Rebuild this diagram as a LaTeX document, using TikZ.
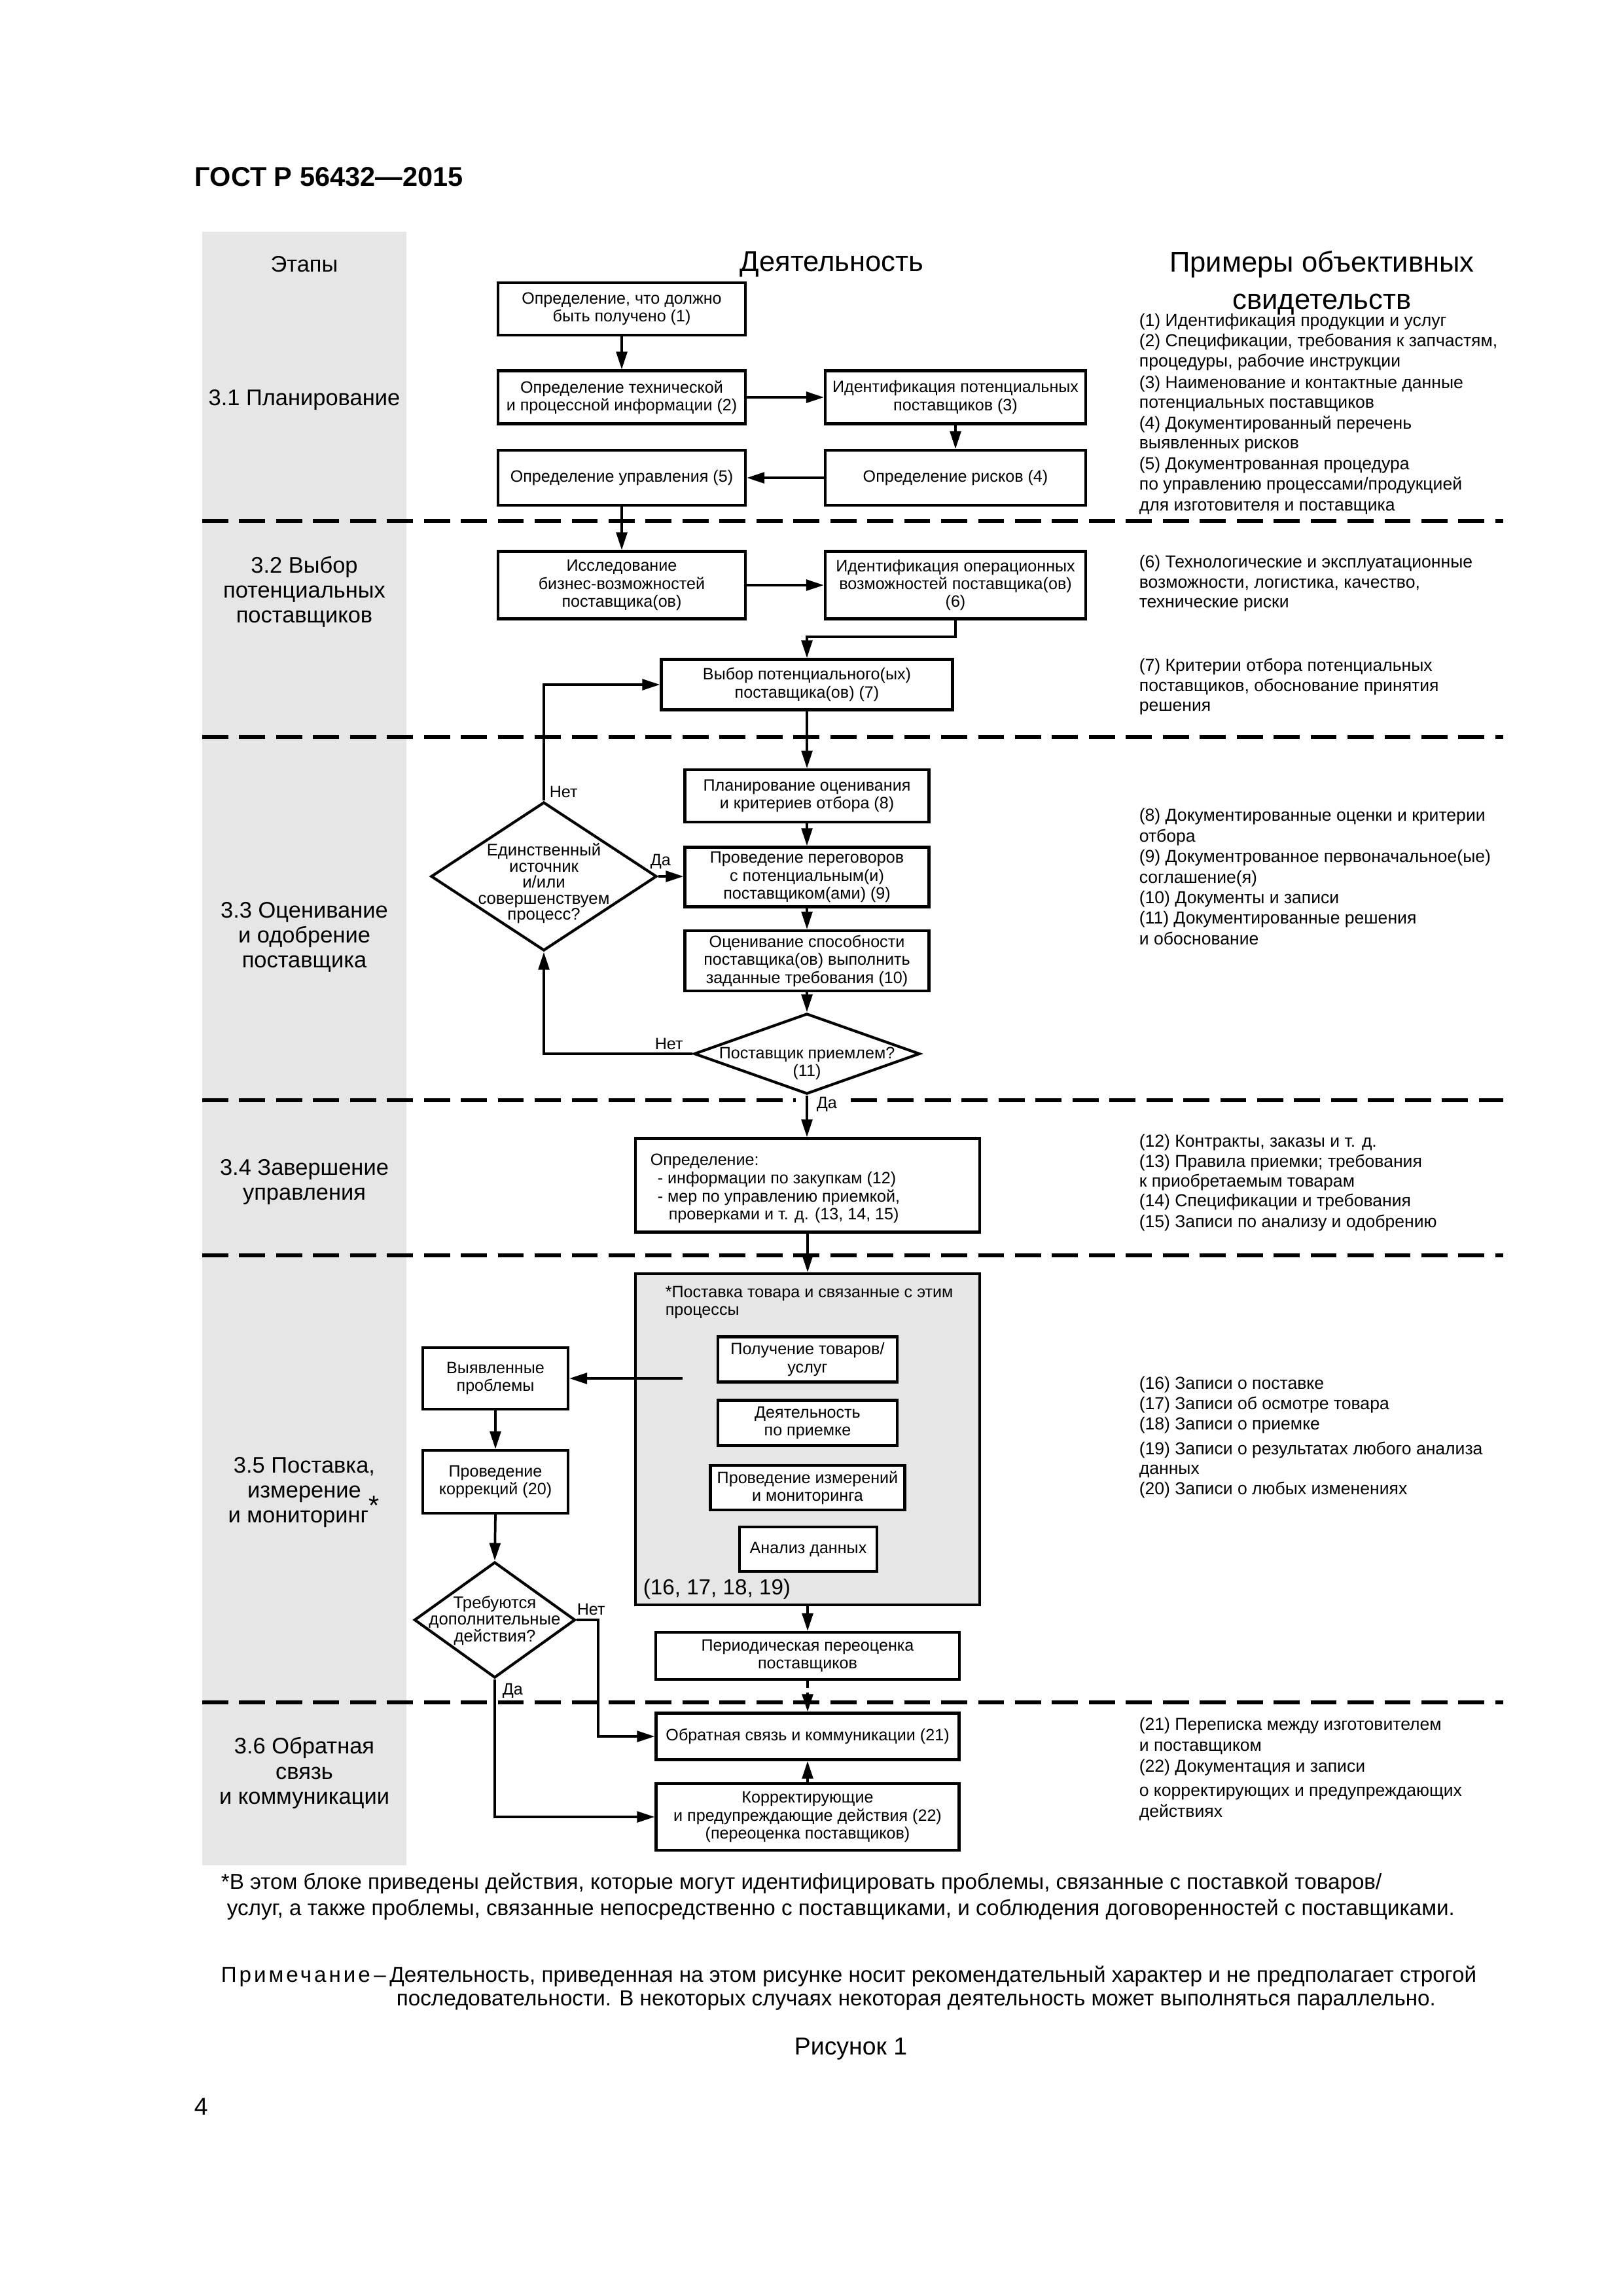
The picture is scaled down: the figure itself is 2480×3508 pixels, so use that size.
\documentclass[tikz,border=0pt]{standalone}
\usepackage{fontspec}
\setmainfont{Liberation Sans}
\usetikzlibrary{shapes.geometric,arrows.meta}
\newlength\px
\setlength\px{0.0846774mm}
\definecolor{bandgray}{RGB}{230,230,230}
\newcommand\FntBox{\fontsize{6.05}{6.6}\selectfont}
\newcommand\FntDia{\fontsize{6.2}{5.9}\selectfont}
\newcommand\FntRc{\fontsize{6.4}{7.4}\selectfont}
\newcommand\FntSt{\fontsize{8.3}{9.2}\selectfont}
\newcommand\FntHd{\fontsize{10.5}{13.7}\selectfont}
\newcommand\FntFn{\fontsize{8.0}{9.6}\selectfont}
\newcommand\RL[3]{\node[rc] (#1) at (1740,#2) {#3};}
\tikzset{
  box/.style={draw, line width=1pt, fill=white, inner sep=1pt, align=center, font=\FntBox},
  sz/.style 2 args={minimum width=#1\px, minimum height=#2\px},
  dia/.style={draw, line width=1pt, fill=white, shape=diamond, inner sep=0pt},
  conn/.style={line width=0.9pt},
  arr/.style={conn, -{Triangle[length=6.5pt,width=4pt]}},
  darr/.style={arr, dash pattern=on 2.6pt off 1.6pt},
  sep/.style={line width=1.4pt, dash pattern=on 9.6pt off 4pt},
  rc/.style={anchor=mid west, inner sep=0pt, font=\FntRc},
  stage/.style={align=center, inner sep=0pt, font=\FntSt},
  lbl/.style={anchor=mid west, inner sep=0pt, font=\FntBox},
  dtext/.style={align=center, inner sep=0pt, font=\FntDia}
}
\begin{document}
\begin{tikzpicture}[x=0.0846774mm,y=-0.0846774mm]
\useasboundingbox (0,0) rectangle (2480,3508);
\fill[white] (0,0) rectangle (2480,3508);
\fill[bandgray] (309,354) rectangle (621,2850);

% title and headers
\node[anchor=west, inner sep=0pt, font=\bfseries\fontsize{10}{12}\selectfont] (title) at (297,270) {ГОСТ Р 56432—2015};
\node[stage] (hetap) at (465,404) {Этапы};
\node[inner sep=0pt, font=\FntHd] (hdeyat) at (1271,404) {Деятельность};
\node[align=center, inner sep=0pt, font=\FntHd] (hprim) at (2020,432) {Примеры объективных\\свидетельств};

% stage labels
\node[stage] (s1) at (465,611) {3.1 Планирование};
\node[stage] (s2) at (465,904) {3.2 Выбор\\потенциальных\\поставщиков};
\node[stage] (s3) at (465,1432) {3.3 Оценивание\\и одобрение\\поставщика};
\node[stage] (s4) at (465,1806) {3.4 Завершение\\управления};
\node[stage] (s5) at (465,2280) {3.5 Поставка,\\измерение\\и мониторинг\smash{\textsuperscript{\fontsize{10}{10}\selectfont *}}};
\node[stage] (s6) at (465,2709) {3.6 Обратная\\связь\\и коммуникации};

% separators
\draw[sep] (309,796) -- (2297,796);
\draw[sep] (309,1126) -- (2297,1126);
\draw[sep] (309,1681) -- (1216,1681);
\draw[sep] (1300,1681) -- (2297,1681);
\draw[sep] (309,1918) -- (2297,1918);
\draw[sep] (309,2601) -- (2297,2601);

% 3.1
\node[box, sz={378}{80}] (b1) at (950,472) {Определение, что должно\\быть получено (1)};
\node[box, sz={378}{81}] (b2) at (950,607) {Определение технической\\и процессной информации (2)};
\node[box, sz={398}{81}] (b3) at (1460,607) {Идентификация потенциальных\\поставщиков (3)};
\node[box, sz={378}{84}] (b5) at (950,730) {Определение управления (5)};
\node[box, sz={398}{84}] (b4) at (1460,730) {Определение рисков (4)};
% 3.2
\node[box, sz={378}{103}] (b6) at (950,894) {Исследование\\бизнес-возможностей\\поставщика(ов)};
\node[box, sz={398}{103}] (b7) at (1460,894) {Идентификация операционных\\возможностей поставщика(ов)\\(6)};
\node[box, sz={445}{77}] (b8) at (1233,1046) {Выбор потенциального(ых)\\поставщика(ов) (7)};
% 3.3
\node[box, sz={373}{80}] (b9) at (1233,1216) {Планирование оценивания\\и критериев отбора (8)};
\node[box, sz={373}{91}] (b10) at (1233,1340) {Проведение переговоров\\с потенциальным(и)\\поставщиком(ами) (9)};
\node[box, sz={373}{92}] (b11) at (1233,1468) {Оценивание способности\\поставщика(ов) выполнить\\заданные требования (10)};
\node[dia, sz={345}{123}] (d1) at (1233,1610) {};
\node[dtext, font=\FntBox] (d1t) at (1233,1625) {Поставщик приемлем?\\(11)};
\node[dia, sz={345}{227}] (d2) at (831,1339) {};
\node[dtext] (d2t) at (831,1350) {Единственный\\источник\\и/или\\совершенствуем\\процесс?};
% 3.4
\node[box, sz={526}{143}] (b12) at (1234,1811) {};
\node[lbl] (b12a) at (993,1770) {Определение:};
\node[lbl] (b12b) at (1004,1798) {- информации по закупкам (12)};
\node[lbl] (b12c) at (1004,1826) {- мер по управлению приемкой,};
\node[lbl] (b12d) at (1021,1853) {проверками и т. д. (13, 14, 15)};
% 3.5
\node[draw, line width=1pt, fill=bandgray, sz={526}{506}] (panel) at (1234,2199) {};
\node[lbl] (pt1) at (1016,1972) {*Поставка товара и связанные с этим};
\node[lbl] (pt2) at (1016,1999) {процессы};
\node[box, sz={274}{69}] (p1) at (1234,2077) {Получение товаров/\\услуг};
\node[box, sz={274}{69}] (p2) at (1234,2174) {Деятельность\\по приемке};
\node[box, sz={297}{68}] (p3) at (1234,2273) {Проведение измерений\\и мониторинга};
\node[box, sz={210}{68}] (p4) at (1235,2367) {Анализ данных};
\node[anchor=mid west, inner sep=0pt, font=\fontsize{8}{9}\selectfont] (pnum) at (982,2426) {(16, 17, 18, 19)};
\node[box, sz={222}{94}] (vp) at (757,2106) {Выявленные\\проблемы};
\node[box, sz={222}{96}] (pk) at (757,2264) {Проведение\\коррекций (20)};
\node[dia, sz={246}{177}] (d3) at (756,2475) {};
\node[dtext, font=\fontsize{6.2}{6.1}\selectfont] (d3t) at (756,2476) {Требуются\\дополнительные\\действия?};
\node[box, sz={464}{72}] (per) at (1234,2530) {Периодическая переоценка\\поставщиков};
% 3.6
\node[box, sz={463}{71}] (b21) at (1234,2653) {Обратная связь и коммуникации (21)};
\node[box, sz={463}{102}] (b22) at (1234,2776) {Корректирующие\\и предупреждающие действия (22)\\(переоценка поставщиков)};

% labels
\node[lbl] (l1) at (839,1208) {Нет};
\node[lbl] (l2) at (993,1312) {Да};
\node[lbl] (l3) at (1000,1593) {Нет};
\node[lbl] (l4) at (1247,1683) {Да};
\node[lbl] (l5) at (881,2457) {Нет};
\node[lbl] (l6) at (767,2578) {Да};

% connectors
\draw[arr] (b1.south) -- (b2.north);
\draw[arr] (b2.east) -- (b3.west);
\draw[arr] (b3.south) -- (b4.north);
\draw[arr] (b4.west) -- (b5.east);
\draw[arr] (b5.south) -- (b6.north);
\draw[arr] (b6.east) -- (b7.west);
\coordinate (e7) at (1460,973);
\draw[arr] (b7.south) -- (e7) -| (b8.north);
\draw[arr] (b8.south) -- (b9.north);
\draw[arr] (b9.south) -- (b10.north);
\draw[arr] (b10.south) -- (b11.north);
\draw[arr] (b11.south) -- (d1.north);
\draw[arr] (d2.east) -- (d2.east -| b10.west);
\draw[arr] (d2.north) |- (b8.west);
\draw[arr] (d1.west) -| (d2.south);
\draw[arr] (d1.south) -- (d1.south |- b12.north);
\draw[arr] (b12.south) -- (panel.north);
\coordinate (ps) at (1043,2106);
\draw[arr] (ps) -- (vp.east);
\draw[arr] (vp.south) -- (pk.north);
\draw[arr] (pk.south) -- (d3.north);
\draw[arr] (panel.south) -- (per.north);
\draw[darr] (per.south) -- (b21.north);
\draw[arr] (b22.north) -- (b21.south);
\coordinate (n3) at (914,2475);
\draw[arr] (d3.east) -- (n3) |- (b21.west);
\draw[arr] (d3.south) |- (b22.west);

% right column
\RL{r1}{488}{(1) Идентификация продукции и услуг}
\RL{r2}{519}{(2) Спецификации, требования к запчастям,}
\RL{r3}{550}{процедуры, рабочие инструкции}
\RL{r4}{583}{(3) Наименование и контактные данные}
\RL{r5}{613}{потенциальных поставщиков}
\RL{r6}{645}{(4) Документированный перечень}
\RL{r7}{675}{выявленных рисков}
\RL{r8}{707}{(5) Документрованная процедура}
\RL{r9}{738}{по управлению процессами/продукцией}
\RL{r10}{770}{для изготовителя и поставщика}
\RL{r11}{857}{(6) Технологические и эксплуатационные}
\RL{r12}{888}{возможности, логистика, качество,}
\RL{r13}{918}{технические риски}
\RL{r14}{1015}{(7) Критерии отбора потенциальных}
\RL{r15}{1046}{поставщиков, обоснование принятия}
\RL{r16}{1076}{решения}
\RL{r17}{1244}{(8) Документированные оценки и критерии}
\RL{r18}{1276}{отбора}
\RL{r19}{1307}{(9) Документрованное первоначальное(ые)}
\RL{r20}{1339}{соглашение(я)}
\RL{r21}{1370}{(10) Документы и записи}
\RL{r22}{1401}{(11) Документированные решения}
\RL{r23}{1433}{и обоснование}
\RL{r24}{1742}{(12) Контракты, заказы и т. д.}
\RL{r25}{1773}{(13) Правила приемки; требования}
\RL{r26}{1803}{к приобретаемым товарам}
\RL{r27}{1833}{(14) Спецификации и требования}
\RL{r28}{1865}{(15) Записи по анализу и одобрению}
\RL{r29}{2112}{(16) Записи о поставке}
\RL{r30}{2143}{(17) Записи об осмотре товара}
\RL{r31}{2174}{(18) Записи о приемке}
\RL{r32}{2212}{(19) Записи о результатах любого анализа}
\RL{r33}{2242}{данных}
\RL{r34}{2273}{(20) Записи о любых изменениях}
\RL{r35}{2633}{(21) Переписка между изготовителем}
\RL{r36}{2665}{и поставщиком}
\RL{r37}{2696}{(22) Документация и записи}
\RL{r38}{2733}{о корректирующих и предупреждающих}
\RL{r39}{2765}{действиях}

% footnotes
\node[anchor=mid west, inner sep=0pt, font=\FntFn] (fn1) at (337,2875) {*В этом блоке приведены действия, которые могут идентифицировать проблемы, связанные с поставкой товаров/};
\node[anchor=mid west, inner sep=0pt, font=\FntFn] (fn2) at (346,2915) {услуг, а также проблемы, связанные непосредственно с поставщиками, и соблюдения договоренностей с поставщиками.};
\node[anchor=mid west, inner sep=0pt, font=\FntFn] (nt1) at (337,3017) {{\addfontfeatures{LetterSpace=12}Примечание}\,–\,Деятельность, приведенная на этом рисунке носит рекомендательный характер и не предполагает строгой};
\node[anchor=mid west, inner sep=0pt, font=\FntFn] (nt2) at (605,3053) {последовательности. В некоторых случаях некоторая деятельность может выполняться параллельно.};
\node[inner sep=0pt, font=\fontsize{9}{10}\selectfont] (fig) at (1300,3130) {Рисунок 1};
\node[anchor=mid west, inner sep=0pt, font=\fontsize{9}{10}\selectfont] (pg) at (296,3220) {4};
\end{tikzpicture}
\end{document}
